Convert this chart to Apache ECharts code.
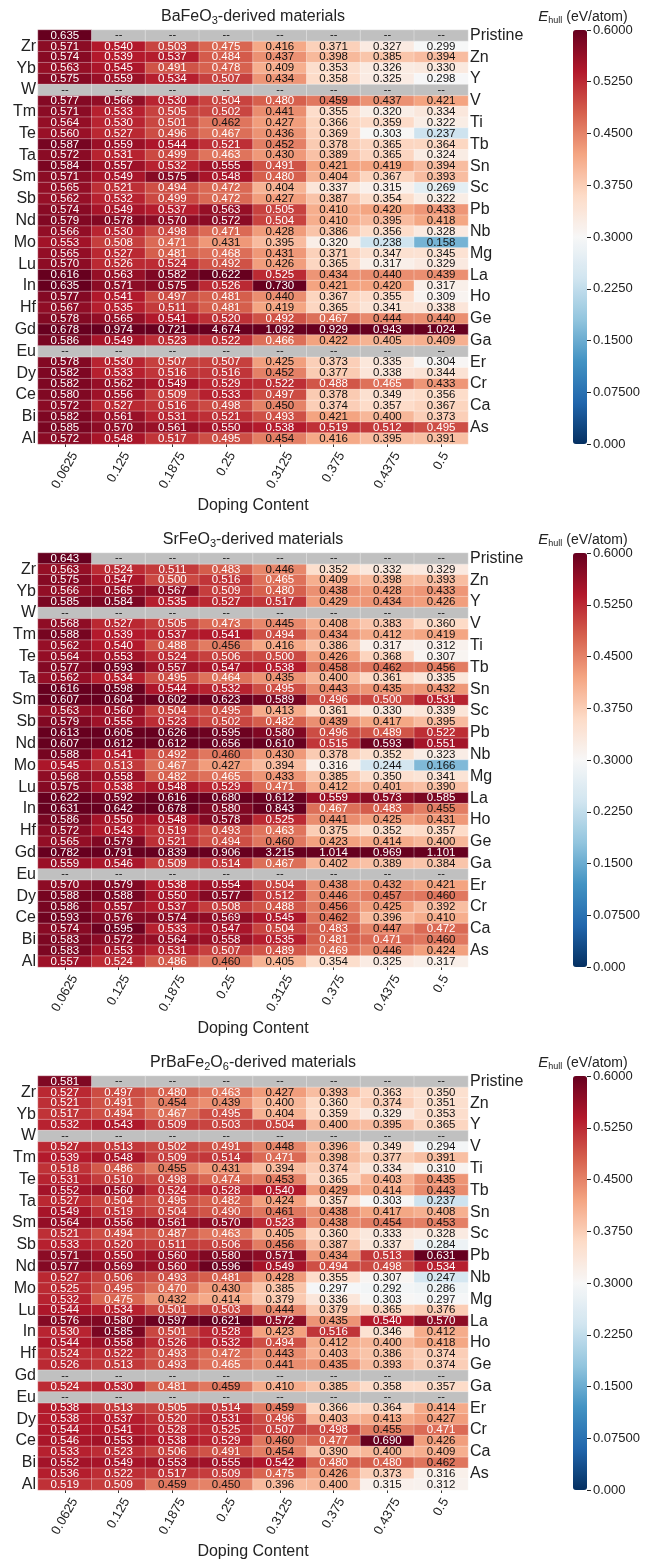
<!DOCTYPE html>
<html><head><meta charset="utf-8">
<script src="https://cdn.jsdelivr.net/npm/echarts@6/dist/echarts.min.js"></script>
<style>html,body{margin:0;padding:0;background:#fff}#c{width:647px;height:1563px}</style>
</head><body><div id="c"></div>
<script>
const dopingContent = ['0.0625','0.125','0.1875','0.25','0.3125','0.375','0.4375','0.5'];
const rowLabels = ['Pristine','Zr','Zn','Yb','Y','W','V','Tm','Ti','Te','Tb','Ta','Sn','Sm','Sc','Sb','Pb','Nd','Nb','Mo','Mg','Lu','La','In','Ho','Hf','Ge','Gd','Ga','Eu','Er','Dy','Cr','Ce','Ca','Bi','As','Al'];
const colorbarTicks = ['0.000','0.07500','0.1500','0.2250','0.3000','0.3750','0.4500','0.5250','0.6000'];
const N = null;

const baFeO3 = [
[0.635,N,N,N,N,N,N,N],
[0.571,0.540,0.503,0.475,0.416,0.371,0.327,0.299],
[0.574,0.539,0.537,0.484,0.437,0.398,0.385,0.394],
[0.563,0.545,0.491,0.478,0.409,0.353,0.326,0.330],
[0.575,0.559,0.534,0.507,0.434,0.358,0.325,0.298],
[N,N,N,N,N,N,N,N],
[0.577,0.566,0.530,0.504,0.480,0.459,0.437,0.421],
[0.571,0.533,0.505,0.502,0.441,0.355,0.320,0.334],
[0.564,0.530,0.501,0.462,0.427,0.366,0.359,0.322],
[0.560,0.527,0.496,0.467,0.436,0.369,0.303,0.237],
[0.587,0.559,0.544,0.521,0.452,0.378,0.365,0.364],
[0.572,0.531,0.499,0.463,0.430,0.389,0.365,0.324],
[0.584,0.557,0.532,0.555,0.491,0.421,0.419,0.394],
[0.571,0.549,0.575,0.548,0.480,0.404,0.367,0.393],
[0.565,0.521,0.494,0.472,0.404,0.337,0.315,0.269],
[0.562,0.532,0.499,0.472,0.427,0.387,0.354,0.322],
[0.574,0.549,0.537,0.563,0.505,0.410,0.420,0.433],
[0.579,0.578,0.570,0.572,0.504,0.410,0.395,0.418],
[0.566,0.530,0.498,0.471,0.428,0.386,0.356,0.328],
[0.553,0.508,0.471,0.431,0.395,0.320,0.238,0.158],
[0.565,0.527,0.481,0.468,0.431,0.371,0.347,0.345],
[0.570,0.526,0.524,0.492,0.426,0.365,0.317,0.329],
[0.616,0.563,0.582,0.622,0.525,0.434,0.440,0.439],
[0.635,0.571,0.575,0.526,0.730,0.421,0.420,0.317],
[0.577,0.541,0.497,0.481,0.440,0.367,0.355,0.309],
[0.567,0.535,0.511,0.481,0.419,0.365,0.341,0.338],
[0.578,0.565,0.541,0.520,0.492,0.467,0.444,0.440],
[0.678,0.974,0.721,4.674,1.092,0.929,0.943,1.024],
[0.586,0.549,0.523,0.522,0.466,0.422,0.405,0.409],
[N,N,N,N,N,N,N,N],
[0.578,0.530,0.507,0.507,0.425,0.373,0.335,0.304],
[0.582,0.533,0.516,0.516,0.452,0.377,0.338,0.344],
[0.582,0.562,0.549,0.529,0.522,0.488,0.465,0.433],
[0.580,0.556,0.509,0.533,0.497,0.378,0.349,0.356],
[0.572,0.527,0.516,0.498,0.450,0.374,0.357,0.367],
[0.582,0.561,0.531,0.521,0.493,0.421,0.400,0.373],
[0.585,0.570,0.561,0.550,0.538,0.519,0.512,0.495],
[0.572,0.548,0.517,0.495,0.454,0.416,0.395,0.391]
];

const srFeO3 = [
[0.643,N,N,N,N,N,N,N],
[0.563,0.524,0.511,0.483,0.446,0.352,0.332,0.329],
[0.575,0.547,0.500,0.516,0.465,0.409,0.398,0.393],
[0.566,0.565,0.567,0.509,0.480,0.438,0.428,0.433],
[0.585,0.584,0.535,0.527,0.517,0.429,0.434,0.426],
[N,N,N,N,N,N,N,N],
[0.568,0.527,0.505,0.473,0.445,0.408,0.383,0.360],
[0.588,0.539,0.537,0.541,0.494,0.434,0.412,0.419],
[0.562,0.540,0.488,0.456,0.416,0.386,0.317,0.312],
[0.564,0.553,0.524,0.506,0.500,0.426,0.368,0.307],
[0.577,0.593,0.557,0.547,0.538,0.458,0.462,0.456],
[0.562,0.534,0.495,0.464,0.435,0.400,0.361,0.335],
[0.616,0.598,0.544,0.532,0.495,0.443,0.435,0.432],
[0.607,0.604,0.602,0.623,0.589,0.496,0.500,0.531],
[0.563,0.560,0.504,0.495,0.413,0.361,0.330,0.339],
[0.579,0.555,0.523,0.502,0.482,0.439,0.417,0.395],
[0.613,0.605,0.626,0.595,0.580,0.496,0.489,0.522],
[0.607,0.612,0.612,0.656,0.610,0.515,0.593,0.551],
[0.588,0.541,0.492,0.460,0.430,0.378,0.352,0.323],
[0.545,0.513,0.467,0.427,0.394,0.316,0.244,0.166],
[0.568,0.558,0.482,0.465,0.433,0.385,0.350,0.341],
[0.575,0.538,0.548,0.529,0.471,0.412,0.401,0.390],
[0.622,0.592,0.616,0.680,0.612,0.559,0.573,0.585],
[0.631,0.642,0.678,0.580,0.843,0.467,0.483,0.455],
[0.586,0.550,0.548,0.578,0.525,0.441,0.425,0.431],
[0.572,0.543,0.519,0.493,0.463,0.375,0.352,0.357],
[0.565,0.579,0.521,0.494,0.460,0.423,0.414,0.400],
[0.782,0.791,0.839,0.906,3.215,1.014,0.969,1.101],
[0.559,0.546,0.509,0.514,0.467,0.402,0.389,0.384],
[N,N,N,N,N,N,N,N],
[0.570,0.579,0.538,0.554,0.504,0.438,0.432,0.421],
[0.588,0.588,0.550,0.577,0.512,0.446,0.457,0.460],
[0.586,0.557,0.537,0.508,0.488,0.456,0.425,0.392],
[0.593,0.576,0.574,0.569,0.545,0.462,0.396,0.410],
[0.574,0.595,0.533,0.547,0.504,0.483,0.447,0.472],
[0.583,0.572,0.564,0.558,0.535,0.481,0.471,0.460],
[0.583,0.553,0.531,0.507,0.489,0.469,0.446,0.424],
[0.557,0.524,0.486,0.460,0.405,0.354,0.325,0.317]
];

const prBaFe2O6 = [
[0.581,N,N,N,N,N,N,N],
[0.527,0.497,0.480,0.463,0.427,0.393,0.363,0.350],
[0.521,0.491,0.454,0.439,0.400,0.360,0.374,0.351],
[0.517,0.494,0.467,0.495,0.404,0.359,0.329,0.353],
[0.532,0.543,0.509,0.503,0.504,0.400,0.395,0.365],
[N,N,N,N,N,N,N,N],
[0.527,0.513,0.502,0.491,0.448,0.396,0.349,0.294],
[0.539,0.548,0.509,0.514,0.471,0.398,0.377,0.391],
[0.518,0.486,0.455,0.431,0.394,0.374,0.334,0.310],
[0.531,0.510,0.498,0.474,0.453,0.365,0.403,0.435],
[0.552,0.560,0.524,0.528,0.540,0.429,0.414,0.443],
[0.527,0.504,0.495,0.482,0.424,0.357,0.303,0.237],
[0.549,0.519,0.504,0.490,0.461,0.438,0.417,0.408],
[0.564,0.556,0.561,0.570,0.523,0.438,0.454,0.453],
[0.521,0.494,0.487,0.463,0.405,0.360,0.333,0.328],
[0.533,0.520,0.511,0.506,0.456,0.387,0.337,0.284],
[0.571,0.550,0.560,0.580,0.571,0.434,0.513,0.631],
[0.577,0.569,0.560,0.596,0.549,0.494,0.498,0.534],
[0.527,0.506,0.493,0.481,0.428,0.355,0.307,0.247],
[0.525,0.495,0.470,0.430,0.385,0.297,0.292,0.286],
[0.532,0.475,0.432,0.414,0.379,0.336,0.303,0.297],
[0.544,0.534,0.501,0.503,0.444,0.379,0.365,0.376],
[0.576,0.580,0.597,0.621,0.572,0.435,0.540,0.570],
[0.530,0.585,0.501,0.528,0.423,0.516,0.346,0.412],
[0.544,0.558,0.526,0.532,0.494,0.412,0.400,0.418],
[0.524,0.522,0.493,0.472,0.443,0.403,0.386,0.374],
[0.526,0.513,0.493,0.465,0.441,0.435,0.393,0.374],
[N,N,N,N,N,N,N,N],
[0.524,0.530,0.481,0.459,0.410,0.385,0.358,0.357],
[N,N,N,N,N,N,N,N],
[0.538,0.513,0.505,0.514,0.459,0.366,0.364,0.414],
[0.538,0.537,0.520,0.531,0.496,0.403,0.413,0.427],
[0.544,0.541,0.528,0.525,0.507,0.498,0.455,0.471],
[0.546,0.553,0.538,0.529,0.460,0.477,0.690,0.426],
[0.533,0.523,0.506,0.491,0.454,0.390,0.400,0.409],
[0.552,0.549,0.553,0.555,0.542,0.480,0.480,0.462],
[0.536,0.522,0.517,0.509,0.475,0.426,0.373,0.316],
[0.519,0.509,0.459,0.450,0.396,0.400,0.315,0.312]
];

const rdBuR = ['#053061','#2166ac','#4393c3','#92c5de','#d1e5f0','#f7f7f7','#fddbc7','#f4a582','#d6604d','#b2182b','#67001f'];
const FONT = 'Liberation Sans, Arial, sans-serif';

const panels = [
  {title:'{a|BaFeO}{s|3}{a|-derived materials}', data: baFeO3},
  {title:'{a|SrFeO}{s|3}{a|-derived materials}', data: srFeO3},
  {title:'{a|PrBaFe}{s|2}{a|O}{s|6}{a|-derived materials}', data: prBaFe2O6}
];
const tops = [30, 553, 1076];
const H = 414, GL = 38, GW = 430, CBL = 573, CBW = 14;
const yCats = rowLabels.slice().reverse();
const nR = rowLabels.length;

// rotated x labels: emulate centre/top alignment of rotated tick labels
const XFS = 13, ROT = 60 * Math.PI / 180;
const labLen = s => XFS * (0.556 * s.replace('.', '').length + 0.278);
const labH = s => labLen(s) * Math.sin(ROT) + XFS * Math.cos(ROT);
const minH = Math.min(...dopingContent.map(labH));
const xRich = {};
dopingContent.forEach((s, k) => {
  const d = (labH(s) - minH) / 2;
  xRich['t' + k] = {fontSize: XFS, fontFamily: FONT, color: '#222', padding: [d, 1.732 * d, 0, 0]};
});
const xMargin = 6 + minH / 2;

const grid = [], xAxis = [], yAxis = [], series = [], visualMap = [], graphic = [];
panels.forEach((p, i) => {
  const top = tops[i];
  grid.push({left: GL, top: top, width: GW, height: H});
  grid.push({left: CBL, top: top, width: CBW, height: H});
  xAxis.push({gridIndex: 2*i, type: 'category', data: dopingContent,
    axisLine: {show: false}, axisTick: {show: true, alignWithLabel: true, length: 3, lineStyle: {color: '#333'}},
    axisLabel: {rotate: 60, align: 'center', verticalAlign: 'middle', margin: xMargin,
      formatter: (v, k) => '{t' + k + '|' + v + '}', rich: xRich, fontSize: XFS, color: '#222', fontFamily: FONT},
    splitLine: {show: false},
    name: 'Doping Content', nameLocation: 'middle', nameGap: 54,
    nameTextStyle: {fontSize: 16, color: '#222', fontFamily: FONT}});
  xAxis.push({gridIndex: 2*i+1, type: 'category', data: [''], show: false});
  yAxis.push({gridIndex: 2*i, type: 'category', data: yCats, position: 'left',
    axisLine: {show: false}, axisTick: {show: false}, splitLine: {show: false},
    axisLabel: {interval: (idx) => idx % 2 === 0, fontSize: 16, color: '#222', margin: 2, fontFamily: FONT}});
  yAxis.push({gridIndex: 2*i, type: 'category', data: yCats, position: 'right',
    axisLine: {show: false}, axisTick: {show: false}, splitLine: {show: false},
    axisLabel: {interval: (idx) => idx % 2 === 1, fontSize: 16, color: '#222', margin: 2, fontFamily: FONT}});
  yAxis.push({gridIndex: 2*i+1, type: 'value', min: 0, max: 0.6, interval: 0.075, position: 'right',
    axisLine: {show: false}, splitLine: {show: false},
    axisTick: {show: true, length: 4, lineStyle: {color: '#222'}},
    axisLabel: {formatter: v => colorbarTicks[Math.round(v / 0.075)], fontSize: 13, color: '#222', margin: 6, fontFamily: FONT}});

  const items = [], grays = [];
  p.data.forEach((row, r) => {
    const yi = nR - 1 - r;
    row.forEach((v, c) => {
      if (v === null) grays.push([c, yi, 0]);
      else items.push({value: [c, yi, v, Math.min(v, 0.6)], label: {color: v >= 0.463 ? '#ffffff' : '#111111'}});
    });
  });
  const mainIdx = series.length;
  series.push({type: 'heatmap', xAxisIndex: 2*i, yAxisIndex: 3*i, data: items,
    itemStyle: {borderColor: 'rgba(255,255,255,0.55)', borderWidth: 0.6},
    label: {show: true, fontSize: 11.5, fontFamily: FONT, formatter: q => q.data.value[2].toFixed(3)},
    emphasis: {disabled: true}, animation: false});
  series.push({type: 'heatmap', xAxisIndex: 2*i, yAxisIndex: 3*i, data: grays,
    itemStyle: {color: '#c0c0c0', borderColor: 'rgba(255,255,255,0.55)', borderWidth: 0.6},
    label: {show: true, fontSize: 11, fontFamily: FONT, color: '#111', formatter: '--'},
    emphasis: {disabled: true}, animation: false});
  visualMap.push({type: 'continuous', min: 0, max: 0.6, dimension: 3, seriesIndex: mainIdx,
    inRange: {color: rdBuR}, left: CBL, top: top, itemWidth: CBW, itemHeight: H,
    calculable: false, padding: 0, hoverLink: false, realtime: false});

  graphic.push({type: 'text', x: GL + GW/2, y: top - 13, style: {text: p.title, align: 'center', verticalAlign: 'middle',
    rich: {a: {fontSize: 16, fontFamily: FONT, fill: '#222'}, s: {fontSize: 11, fontFamily: FONT, fill: '#222', padding: [8,0,0,0]}}}});
  graphic.push({type: 'text', x: 583, y: top - 13, style: {text: '{e|E}{h|hull}{u| (eV/atom)}', align: 'center', verticalAlign: 'middle',
    rich: {e: {fontSize: 15, fontStyle: 'italic', fontFamily: FONT, fill: '#222'},
           h: {fontSize: 9, fontFamily: FONT, fill: '#222', padding: [7,0,0,0]},
           u: {fontSize: 14, fontFamily: FONT, fill: '#222'}}}});
});

const chart = echarts.init(document.getElementById('c'), null, {renderer: 'canvas'});
chart.setOption({
  animation: false,
  textStyle: {fontFamily: FONT},
  grid, xAxis, yAxis, series, visualMap, graphic
});
</script>
</body></html>
